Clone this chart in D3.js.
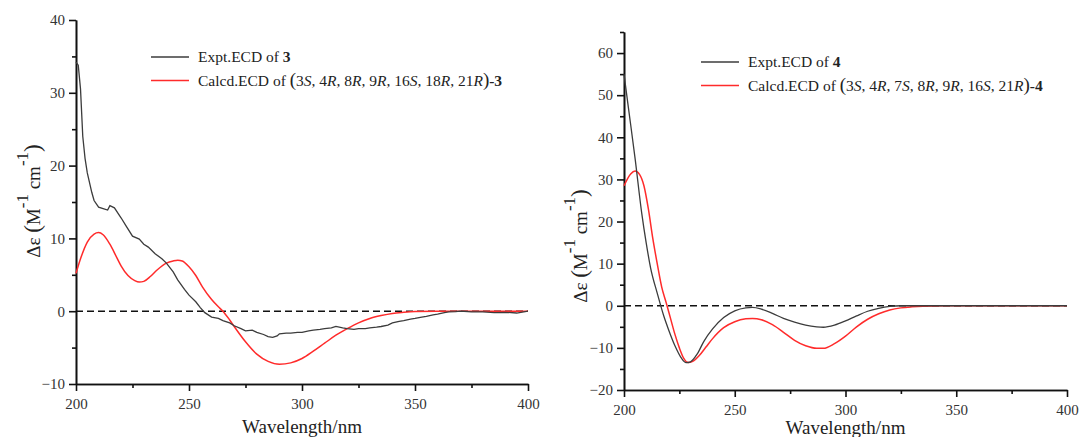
<!DOCTYPE html>
<meta charset="utf-8">
<style>
body { margin: 0; background: #fff; }
svg text { font-family: "Liberation Serif", "DejaVu Serif", serif !important; fill: #222; }
.axis path, .axis line { stroke: #111; stroke-width: 1.6px; }
.axis text { font-size: 15px; fill: #333; }
.expt { fill: none; stroke: #3c3c3c; stroke-width: 1.3px; }
.calc { fill: none; stroke: #ff2b2b; stroke-width: 1.5px; }
.zero { stroke: #111; stroke-width: 1.5px; stroke-dasharray: 7,4; }
</style>
<svg width="1080" height="437" font-family="Liberation Serif"></svg>
<script src="https://d3js.org/d3.v7.min.js"></script>
<script>

// compound 3
var expt3Wl = [200,201,202,203,204,205,207,208,210,212,214,215,217,220,222,225,228,230,232,235,238,240,243,245,248,250,253,255,257,260,263,265,268,270,273,275,278,280,283,285,287,289,290,293,295,298,300,303,305,308,310,313,315,318,320,323,325,328,330,333,335,338,340,343,345,348,350,353,355,358,360,363,365,368,370,375,380,385,390,395,400];
var expt3 = [34.2,33.8,30.5,24,21,19,16.3,15.2,14.3,14.1,13.9,14.5,14.2,12.8,11.8,10.3,9.9,9.2,8.8,7.9,7.2,6.6,5.4,4.3,3.0,2.2,1.3,0.5,-0.2,-0.8,-1.0,-1.3,-1.6,-2.0,-2.4,-2.7,-2.6,-2.9,-3.2,-3.5,-3.6,-3.4,-3.1,-3.0,-3.0,-2.9,-2.9,-2.7,-2.6,-2.5,-2.4,-2.3,-2.1,-2.3,-2.4,-2.5,-2.4,-2.4,-2.3,-2.2,-2.1,-1.9,-1.6,-1.4,-1.3,-1.1,-1.0,-0.8,-0.7,-0.5,-0.4,-0.2,-0.1,-0.05,0,-0.1,-0.1,-0.2,-0.15,-0.25,0];
var calc3Wl = [200,202,205,208,210,212,215,218,220,223,226,228,230,233,236,240,243,245,247,250,253,256,260,263,265,268,270,275,280,285,290,295,300,305,310,315,320,325,330,335,340,345,350,360,380,400];
var calc3 = [5.2,7.2,9.5,10.6,10.8,10.5,9.2,7.4,6.2,4.9,4.2,4.0,4.1,4.8,5.7,6.6,6.9,7.0,6.9,6.1,4.9,3.3,1.6,0.6,0,-1.2,-2.1,-4.2,-5.9,-6.9,-7.3,-7.1,-6.5,-5.5,-4.4,-3.3,-2.4,-1.6,-1.0,-0.6,-0.3,-0.15,-0.05,0,0,0];

// compound 4
var expt4Wl = [200,202,205,208,210,212,215,218,220,223,226,228,230,233,236,240,245,250,255,258,262,267,272,277,282,287,290,295,300,305,310,315,320,325,340,400];
var expt4 = [55,47,35,22,15,9,3,-2.5,-5.5,-9.5,-12.5,-13.5,-13.3,-11.5,-8.5,-5.5,-2.8,-1.2,-0.5,-0.4,-0.8,-1.8,-3,-3.9,-4.6,-5,-5.1,-4.6,-3.6,-2.4,-1.3,-0.6,-0.15,0,0,0];
var calc4Wl = [200,203,205,207,209,211,213,215,217,219,221,223,225,227,229,231,234,237,240,245,250,255,258,262,267,272,277,282,287,290,295,300,305,310,315,320,325,330,335,345,400];
var calc4 = [28.5,31.3,32,31.2,28.5,23,16,10,4.5,0.8,-3,-6.8,-10,-12.5,-13.5,-13.2,-11.8,-9.8,-7.8,-5.2,-3.8,-3.1,-3.0,-3.3,-4.5,-6.3,-8.2,-9.5,-10.1,-10.1,-9.0,-7.2,-5.0,-3.2,-1.9,-1.0,-0.5,-0.25,-0.1,0,0];

var xTicks = [200, 250, 300, 350, 400];
var xMinor = [225, 275, 325, 375];

var legend3 = [["Calcd.ECD of ", ""], ["(", "p"], ["3", ""], ["S", "i"], [", 4", ""], ["R", "i"], [", 8", ""], ["R", "i"],
  [", 9", ""], ["R", "i"], [", 16", ""], ["S", "i"], [", 18", ""], ["R", "i"], [", 21", ""], ["R", "i"], [")", "p"], ["-3", "b"]];
var legend4 = [["Calcd.ECD of ", ""], ["(", "p"], ["3", ""], ["S", "i"], [", 4", ""], ["R", "i"], [", 7", ""], ["S", "i"],
  [", 8", ""], ["R", "i"], [", 9", ""], ["R", "i"], [", 16", ""], ["S", "i"], [", 21", ""], ["R", "i"], [")", "p"], ["-4", "b"]];

var serif = "'Liberation Serif', 'DejaVu Serif', serif";
var svg = d3.select("svg");

function panel(p) {
  var x = d3.scaleLinear().domain([200, 400]).range([p.left, p.right]);
  var y = d3.scaleLinear().domain(p.yDomain).range([p.bottom, p.top]);
  var g = svg.append("g");

  function axis(sel, a, tr) {
    sel.append("g").attr("class", "axis").attr("transform", tr).call(a)
      .attr("font-family", serif).attr("font-size", null);
  }
  var bx = "translate(0," + p.bottom + ")", ly = "translate(" + p.left + ",0)";
  axis(g, d3.axisBottom(x).tickValues(xMinor).tickSize(4).tickSizeOuter(0).tickFormat(""), bx);
  axis(g, d3.axisBottom(x).tickValues(xTicks).tickSize(7).tickSizeOuter(0).tickPadding(p.xPad), bx);
  axis(g, d3.axisLeft(y).tickValues(p.yMinor).tickSize(4).tickSizeOuter(0).tickFormat(""), ly);
  axis(g, d3.axisLeft(y).tickValues(p.yTicks).tickSize(7).tickSizeOuter(0).tickPadding(4), ly);

  g.append("line").attr("class", "zero")
    .attr("x1", x(200)).attr("x2", x(400)).attr("y1", y(0)).attr("y2", y(0));

  var line = d3.line().x(function(d) { return x(d[0]); }).y(function(d) { return y(d[1]); });
  g.append("path").attr("class", "calc")
    .attr("d", line.curve(d3.curveMonotoneX)(d3.zip(p.calcWl, p.calc)));
  g.append("path").attr("class", "expt")
    .attr("d", line.curve(p.exptCurve)(d3.zip(p.exptWl, p.expt)));

  // axis titles
  g.append("text").attr("x", (p.left + p.right) / 2).attr("y", p.xTitleY)
    .attr("text-anchor", "middle").style("font-size", "19px").text("Wavelength/nm");

  var yt = g.append("text")
    .attr("transform", "translate(" + p.yTitleX + "," + p.yTitleY + ") rotate(-90)")
    .attr("text-anchor", "middle").style("font-size", "19px");
  yt.append("tspan").text("Δε ");
  yt.append("tspan").style("font-size", "23px").text("(");
  yt.append("tspan").text("M");
  yt.append("tspan").attr("dy", -12).style("font-size", "17px").text("-1");
  yt.append("tspan").attr("dy", 12).text(" cm");
  yt.append("tspan").attr("dy", -12).style("font-size", "17px").text("-1");
  yt.append("tspan").attr("dy", 12).style("font-size", "23px").text(")");

  // legend
  var lg = g.append("g").attr("transform", "translate(" + p.legX + "," + p.legY + ")");
  lg.append("line").attr("class", "expt").attr("x1", 0).attr("x2", 38).attr("y1", 0).attr("y2", 0);
  lg.append("line").attr("class", "calc").attr("x1", 0).attr("x2", 38).attr("y1", p.legGap).attr("y2", p.legGap);
  var t1 = lg.append("text").attr("x", 47).attr("y", 5).style("font-size", "15.5px");
  t1.append("tspan").text("Expt.ECD of ");
  t1.append("tspan").style("font-weight", "bold").text(p.num);
  var t2 = lg.append("text").attr("x", 47).attr("y", p.legGap + 5).style("font-size", "15.5px");
  t2.selectAll("tspan").data(p.legend).enter().append("tspan")
    .style("font-style", function(d) { return d[1] === "i" ? "italic" : null; })
    .style("font-weight", function(d) { return d[1] === "b" ? "bold" : null; })
    .style("font-size", function(d) { return d[1] === "p" ? "19px" : null; })
    .text(function(d) { return d[0]; });
}

panel({
  left: 76, right: 528, top: 20, bottom: 384,
  yDomain: [-10, 40], yTicks: [-10, 0, 10, 20, 30, 40], yMinor: [-5, 5, 15, 25, 35],
  xPad: 7, xTitleY: 433, yTitleX: 40, yTitleY: 201,
  exptWl: expt3Wl, expt: expt3, exptCurve: d3.curveLinear,
  calcWl: calc3Wl, calc: calc3,
  legX: 151, legY: 57, legGap: 23.5, num: "3", legend: legend3
});

panel({
  left: 624, right: 1067, top: 32, bottom: 390,
  yDomain: [-20, 65], yTicks: [-20, -10, 0, 10, 20, 30, 40, 50, 60], yMinor: [-15, -5, 5, 15, 25, 35, 45, 55, 65],
  xPad: 7, xTitleY: 434, yTitleX: 587, yTitleY: 246,
  exptWl: expt4Wl, expt: expt4, exptCurve: d3.curveMonotoneX,
  calcWl: calc4Wl, calc: calc4,
  legX: 701, legY: 62, legGap: 23.5, num: "4", legend: legend4
});

</script>
